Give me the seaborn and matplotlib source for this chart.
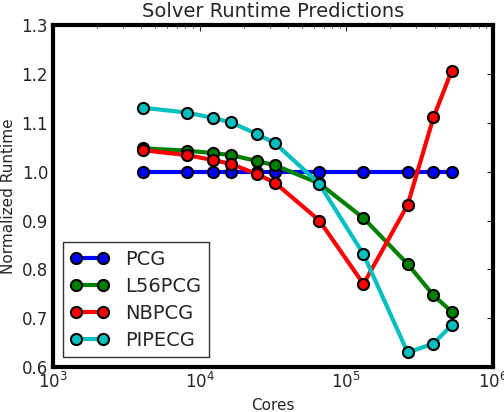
import matplotlib
matplotlib.use("Agg")
import matplotlib.pyplot as plt
import seaborn as sns
import pandas as pd

cores = [4096, 8192, 12288, 16384, 24576, 32768, 65536, 131072, 262144, 393216, 524288]
pcg = [1.0, 1.0, 1.0, 1.0, 1.0, 1.0, 1.0, 1.0, 1.0, 1.0, 1.0]
l56pcg = [1.048, 1.043, 1.038, 1.034, 1.022, 1.013, 0.976, 0.905, 0.811, 0.747, 0.713]
nbpcg = [1.044, 1.034, 1.024, 1.016, 0.995, 0.977, 0.900, 0.770, 0.932, 1.111, 1.207]
pipecg = [1.131, 1.121, 1.110, 1.101, 1.077, 1.058, 0.975, 0.831, 0.630, 0.648, 0.686]

solvers = ["PCG", "L56PCG", "NBPCG", "PIPECG"]
colors = ["#0000ff", "#008000", "#ff0000", "#00bfbf"]

rows = []
for name, vals in zip(solvers, [pcg, l56pcg, nbpcg, pipecg]):
    for c, v in zip(cores, vals):
        rows.append({"Cores": c, "Runtime": v, "Solver": name})
df = pd.DataFrame(rows)

sns.set_style("white")
plt.rcParams['font.family'] = ['DejaVu Sans']

fig = plt.figure(figsize=(5.04, 4.12), dpi=100)
ax = fig.add_axes([0.105, 0.109, 0.873, 0.830])

sns.lineplot(data=df, x="Cores", y="Runtime", hue="Solver", palette=colors,
             hue_order=solvers, marker="o", markersize=8, linewidth=3,
             markeredgecolor="black", markeredgewidth=1.5, ax=ax, legend=True)

ax.set_xscale("log")
ax.set_xlim(1e3, 1e6)
ax.set_ylim(0.6, 1.3)
ax.set_xlabel("Cores", fontsize=11)
ax.set_ylabel("Normalized Runtime", fontsize=11)
ax.set_title("Solver Runtime Predictions", fontsize=14)
ax.tick_params(axis="both", which="both", direction="in", top=True, right=True, labelsize=12)
ax.tick_params(axis="both", which="major", length=4)
ax.tick_params(axis="both", which="minor", length=2)
for s in ax.spines.values():
    s.set_linewidth(3)
    s.set_color("black")

handles, labels = ax.get_legend_handles_labels()
leg = ax.legend(handles, labels, loc="lower left", numpoints=2, fontsize=14,
                fancybox=False, frameon=True, edgecolor="black", handlelength=2.0,
                borderaxespad=0.5, labelspacing=0.4)
leg.get_frame().set_linewidth(1)

fig.savefig("out.png", dpi=100)
